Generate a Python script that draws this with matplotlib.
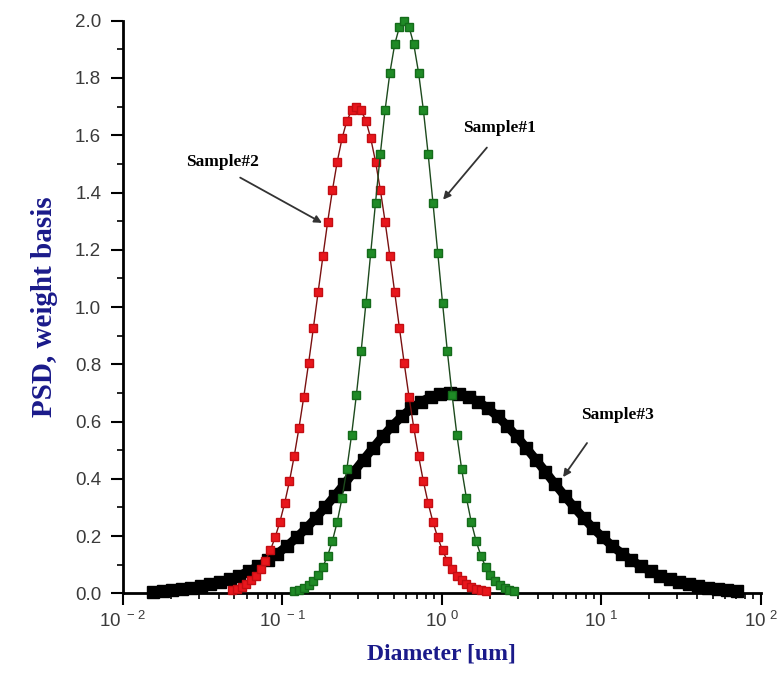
import matplotlib

matplotlib.use("Agg")
import matplotlib.pyplot as plt
import numpy as np
from matplotlib.ticker import FixedLocator, LogLocator, MultipleLocator, NullFormatter

plt.rcParams["font.family"] = ["Liberation Sans", "DejaVu Sans"]
plt.rcParams["mathtext.fontset"] = "custom"
plt.rcParams["mathtext.rm"] = "Liberation Sans"

# --- Sample#1 (green) : log10 diameter / PSD ---
logd_s1 = [-0.925, -0.895, -0.865, -0.835, -0.805, -0.775, -0.745, -0.715, -0.685, -0.655,
           -0.625, -0.595, -0.565, -0.535, -0.505, -0.475, -0.445, -0.415, -0.385, -0.355,
           -0.325, -0.295, -0.265, -0.235, -0.205, -0.175, -0.145, -0.115, -0.085, -0.055,
           -0.025, 0.005, 0.035, 0.065, 0.095, 0.125, 0.155, 0.185, 0.215, 0.245,
           0.275, 0.305, 0.335, 0.365, 0.395, 0.425, 0.455]
psd_s1 = [0.007, 0.012, 0.019, 0.029, 0.044, 0.064, 0.093, 0.132, 0.184, 0.250,
          0.333, 0.434, 0.554, 0.693, 0.847, 1.015, 1.190, 1.365, 1.534, 1.688,
          1.818, 1.917, 1.979, 2.000, 1.979, 1.917, 1.818, 1.688, 1.534, 1.365,
          1.190, 1.015, 0.847, 0.693, 0.554, 0.434, 0.333, 0.250, 0.184, 0.132,
          0.093, 0.064, 0.044, 0.029, 0.019, 0.012, 0.007]

# --- Sample#2 (red) ---
logd_s2 = [-1.315, -1.285, -1.255, -1.225, -1.195, -1.165, -1.135, -1.105, -1.075, -1.045,
           -1.015, -0.985, -0.955, -0.925, -0.895, -0.865, -0.835, -0.805, -0.775, -0.745,
           -0.715, -0.685, -0.655, -0.625, -0.595, -0.565, -0.535, -0.505, -0.475, -0.445,
           -0.415, -0.385, -0.355, -0.325, -0.295, -0.265, -0.235, -0.205, -0.175, -0.145,
           -0.115, -0.085, -0.055, -0.025, 0.005, 0.035, 0.065, 0.095, 0.125, 0.155,
           0.185, 0.215, 0.245, 0.275]
psd_s2 = [0.011, 0.016, 0.023, 0.032, 0.045, 0.062, 0.085, 0.114, 0.150, 0.195,
          0.249, 0.315, 0.391, 0.479, 0.578, 0.686, 0.803, 0.926, 1.052, 1.177,
          1.298, 1.409, 1.508, 1.589, 1.650, 1.687, 1.700, 1.687, 1.650, 1.589,
          1.508, 1.409, 1.298, 1.177, 1.052, 0.926, 0.803, 0.686, 0.578, 0.479,
          0.391, 0.315, 0.249, 0.195, 0.150, 0.114, 0.085, 0.062, 0.045, 0.032,
          0.023, 0.016, 0.011, 0.007]

# --- Sample#3 (black) ---
logd_s3 = [-1.81, -1.75, -1.69, -1.63, -1.57, -1.51, -1.45, -1.39, -1.33, -1.27,
           -1.21, -1.15, -1.09, -1.03, -0.97, -0.91, -0.85, -0.79, -0.73, -0.67,
           -0.61, -0.55, -0.49, -0.43, -0.37, -0.31, -0.25, -0.19, -0.13, -0.07,
           -0.01, 0.05, 0.11, 0.17, 0.23, 0.29, 0.35, 0.41, 0.47, 0.53,
           0.59, 0.65, 0.71, 0.77, 0.83, 0.89, 0.95, 1.01, 1.07, 1.13,
           1.19, 1.25, 1.31, 1.37, 1.43, 1.49, 1.55, 1.61, 1.67, 1.73,
           1.79, 1.85]
psd_s3 = [0.006, 0.008, 0.010, 0.014, 0.018, 0.024, 0.031, 0.039, 0.050, 0.062,
          0.077, 0.095, 0.115, 0.139, 0.165, 0.195, 0.227, 0.263, 0.301, 0.341,
          0.382, 0.425, 0.467, 0.508, 0.548, 0.585, 0.618, 0.646, 0.669, 0.686,
          0.697, 0.700, 0.697, 0.686, 0.669, 0.646, 0.618, 0.585, 0.548, 0.508,
          0.467, 0.425, 0.382, 0.341, 0.301, 0.263, 0.227, 0.195, 0.165, 0.139,
          0.115, 0.095, 0.077, 0.062, 0.050, 0.039, 0.031, 0.024, 0.018, 0.014,
          0.010, 0.008]

x_decades = [0.01, 0.1, 1, 10, 100]
x_labels = [r"$\mathregular{10^{\ -2}}$", r"$\mathregular{10^{\ -1}}$",
            r"$\mathregular{10^{\ 0}}$", r"$\mathregular{10^{\ 1}}$",
            r"$\mathregular{10^{\ 2}}$"]
y_ticks = [0.0, 0.2, 0.4, 0.6, 0.8, 1.0, 1.2, 1.4, 1.6, 1.8, 2.0]

fig = plt.figure(figsize=(7.82, 6.75), dpi=100)
ax = fig.add_axes([0.157, 0.121, 0.8157, 0.8483])

# 黑色樣品點很密，畫成連續粗帶
ax.plot(10 ** np.array(logd_s3), psd_s3, color="black", lw=6.5, marker="s",
        ms=8, mfc="black", mec="black", clip_on=False, zorder=3)
ax.plot(10 ** np.array(logd_s2), psd_s2, color="#7a1010", lw=1.0, marker="s",
        ms=6, mfc="#e8161c", mec="#c40d12", clip_on=False, zorder=4)
ax.plot(10 ** np.array(logd_s1), psd_s1, color="#1d4a1d", lw=1.0, marker="s",
        ms=6, mfc="#1f8a26", mec="#146b1a", clip_on=False, zorder=4)

ax.set_xscale("log")
ax.set_xlim(0.01, 100)
ax.set_ylim(0, 2.0)

ax.set_xticks(x_decades)
ax.set_xticklabels(x_labels)
ax.xaxis.set_minor_locator(LogLocator(base=10, subs=np.arange(2, 10)))
ax.xaxis.set_minor_formatter(NullFormatter())
ax.yaxis.set_major_locator(FixedLocator(y_ticks))
ax.set_yticklabels([f"{v:.1f}" for v in y_ticks])
ax.yaxis.set_minor_locator(MultipleLocator(0.1))

for side in ("top", "right"):
    ax.spines[side].set_visible(False)
for side in ("left", "bottom"):
    ax.spines[side].set_linewidth(2.0)

ax.tick_params(axis="both", which="major", direction="out", length=8.5, width=1.5,
               labelsize=13.5, labelcolor="#3a3a3a")
ax.tick_params(axis="both", which="minor", direction="out", length=4, width=1.2)
ax.tick_params(axis="y", which="major", pad=7)
ax.tick_params(axis="x", which="major", pad=4)

ax.set_xlabel("Diameter [um]", family="Liberation Serif", fontsize=17,
              fontweight="bold", color="#1a1a8a", labelpad=9)
ax.set_ylabel("PSD, weight basis", family="Liberation Serif", fontsize=21,
              fontweight="bold", color="#1a1a8a", labelpad=12)

arrow = dict(arrowstyle="-|>", color="#333333", lw=1.3, mutation_scale=11,
             shrinkA=0, shrinkB=0)
txt = dict(family="Liberation Serif", fontsize=12.5, fontweight="bold",
           ha="center", va="center")

ax.text(2.32, 1.627, "Sample#1", **txt)
ax.annotate("", xy=(1.02, 1.375), xytext=(1.92, 1.557), arrowprops=arrow)
ax.text(0.042, 1.505, "Sample#2", **txt)
ax.annotate("", xy=(0.1775, 1.294), xytext=(0.0545, 1.452), arrowprops=arrow)
ax.text(12.7, 0.623, "Sample#3", **txt)
ax.annotate("", xy=(5.77, 0.406), xytext=(8.15, 0.525), arrowprops=arrow)

plt.savefig("out.png", dpi=100)
